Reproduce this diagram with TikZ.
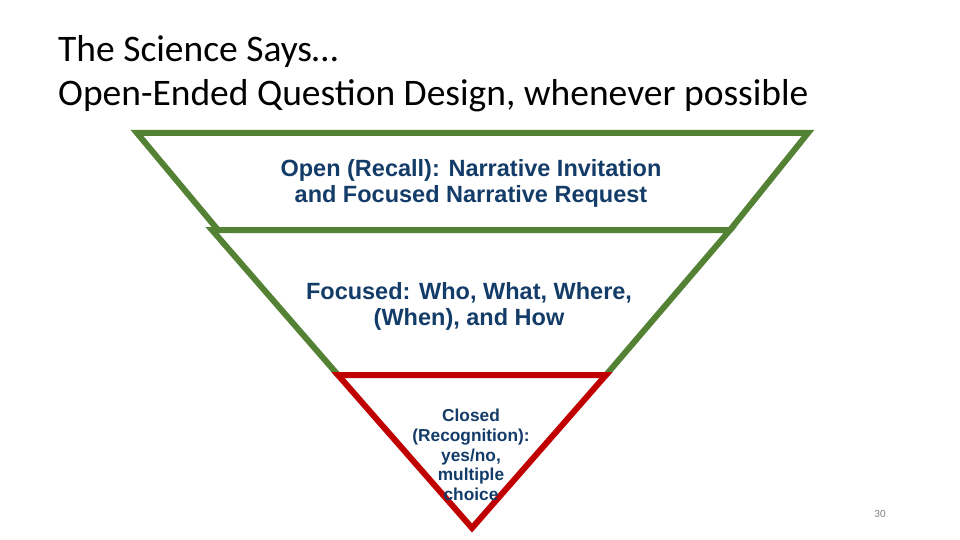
\documentclass[tikz,border=0pt]{standalone}
\usepackage{fontspec}
\setmainfont{Carlito}
\newfontfamily\arialf{Liberation Sans}
\begin{document}
\begin{tikzpicture}[x=1pt,y=-1pt,
  band/.style={line width=6pt,line join=miter,fill=white},
  lbl/.style={text=txtblue, align=center, inner sep=0pt}]
\definecolor{grn}{RGB}{84,130,53}
\definecolor{rd}{RGB}{192,0,0}
\definecolor{txtblue}{RGB}{20,60,105}
\useasboundingbox (0,0) rectangle (960,540);
\node[anchor=west, align=left, font=\fontsize{37.5}{44}\selectfont, inner sep=0pt] (title) at (58,74)
 {The Science Says…\\Open-Ended Question Design, whenever possible};
\draw[band,draw=grn] (137,133) -- (808,133) -- (730,230) -- (218,230) -- cycle;
\draw[band,draw=grn] (212,230) -- (730,230) -- (606,375) -- (338,375) -- cycle;
\draw[band,draw=rd] (338,375) -- (606,375) -- (472,528) -- cycle;
\node[lbl, font=\arialf\bfseries\fontsize{23.5}{26}\selectfont] (t1) at (471,183) {Open (Recall): Narrative Invitation\\and Focused Narrative Request};
\node[lbl, font=\arialf\bfseries\fontsize{23.5}{26}\selectfont] (t2) at (469,306) {Focused: Who, What, Where,\\(When), and How};
\node[lbl, font=\arialf\bfseries\fontsize{17.3}{19.7}\selectfont] (t3) at (471,455) {Closed\\(Recognition):\\yes/no,\\multiple\\choice};
\node[font=\fontsize{11}{13}\selectfont, text=gray, inner sep=0pt] (pg) at (880,514) {30};
\end{tikzpicture}
\end{document}
